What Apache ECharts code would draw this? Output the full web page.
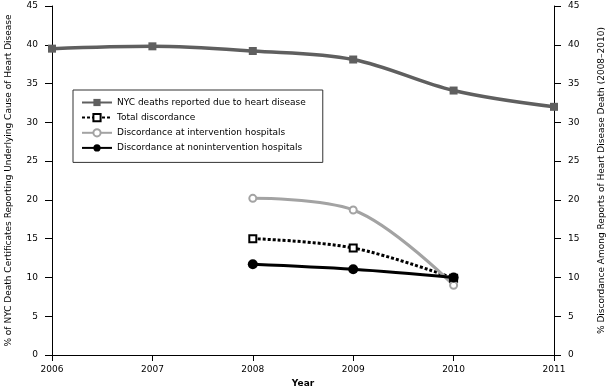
<!DOCTYPE html>
<html>
<head>
<meta charset="utf-8">
<script src="https://cdn.jsdelivr.net/npm/echarts@6/dist/echarts.min.js"></script>
<style>
html,body{margin:0;padding:0;background:#fff;}
#c{width:607px;height:388px;}
</style>
</head>
<body>
<div id="c"></div>
<script>
var years = ['2006', '2007', '2008', '2009', '2010', '2011'];
var yTicks = [0, 5, 10, 15, 20, 25, 30, 35, 40, 45];
var nycDeaths = [39.5, 39.8, 39.2, 38.1, 34.1, 32.0];
var totalDiscordance = [null, null, 15.0, 13.8, 9.9, null];
var interventionDiscordance = [null, null, 20.2, 18.7, 9.0, null];
var noninterventionDiscordance = [null, null, 11.7, 11.05, 10.0, null];
var seriesNames = ['NYC deaths reported due to heart disease', 'Total discordance', 'Discordance at intervention hospitals', 'Discordance at nonintervention hospitals'];

var FONT = 'DejaVu Sans';
var chart = echarts.init(document.getElementById('c'), null, {renderer: 'canvas'});
var yAxisCommon = {
  type: 'value', min: yTicks[0], max: yTicks[yTicks.length - 1], interval: 5,
  splitLine: {show: false},
  axisLine: {show: true, lineStyle: {color: '#000', width: 1}},
  axisTick: {show: true, length: 7, lineStyle: {color: '#000'}},
  axisLabel: {color: '#000', fontFamily: FONT, fontSize: 9, margin: 14},
  nameLocation: 'middle', nameRotate: 90,
  nameTextStyle: {color: '#000', fontFamily: FONT, fontSize: 9}
};
chart.setOption({
  animation: false,
  backgroundColor: '#fff',
  grid: {left: 52, right: 53, top: 6, bottom: 33, containLabel: false, outerBoundsMode: 'none'},
  legend: {
    orient: 'vertical', left: 73, top: 90,
    backgroundColor: '#fff', borderColor: '#333', borderWidth: 1,
    padding: [8, 17, 10, 8], itemGap: 6, itemWidth: 30, itemHeight: 9, itemTextGap: 9,
    textStyle: {color: '#000', fontFamily: FONT, fontSize: 9},
    data: seriesNames
  },
  xAxis: {
    type: 'category', data: years, boundaryGap: false,
    axisLine: {lineStyle: {color: '#000', width: 1}},
    axisTick: {show: true, length: 6, alignWithLabel: true, lineStyle: {color: '#000'}},
    axisLabel: {color: '#000', fontFamily: FONT, fontSize: 9, margin: 10},
    name: 'Year', nameLocation: 'middle', nameGap: 23,
    nameTextStyle: {color: '#000', fontFamily: FONT, fontSize: 9, fontWeight: 'bold'}
  },
  yAxis: [
    Object.assign({}, yAxisCommon, {position: 'left', name: '% of NYC Death Certificates Reporting Underlying Cause of Heart Disease', nameGap: 39}),
    Object.assign({}, yAxisCommon, {position: 'right', name: '% Discordance Among Reports of Heart Disease Death (2008\u20132010)', nameGap: 43})
  ],
  series: [
    {
      name: seriesNames[0], type: 'line', data: nycDeaths, yAxisIndex: 0, smooth: 0.35,
      symbol: 'rect', symbolSize: 8, showAllSymbol: true,
      lineStyle: {color: '#5f5f5f', width: 3.5},
      itemStyle: {color: '#5f5f5f', borderColor: '#5f5f5f', borderWidth: 0}
    },
    {
      name: seriesNames[1], type: 'line', data: totalDiscordance, yAxisIndex: 1, smooth: 0.35,
      symbol: 'rect', symbolSize: 7,
      lineStyle: {color: '#000', width: 3, type: [3, 2]},
      itemStyle: {color: '#fff', borderColor: '#000', borderWidth: 2}
    },
    {
      name: seriesNames[2], type: 'line', data: interventionDiscordance, yAxisIndex: 1, smooth: 0.35,
      symbol: 'circle', symbolSize: 7,
      lineStyle: {color: '#a3a3a3', width: 3},
      itemStyle: {color: '#fff', borderColor: '#a3a3a3', borderWidth: 2}
    },
    {
      name: seriesNames[3], type: 'line', data: noninterventionDiscordance, yAxisIndex: 1, smooth: 0.35,
      symbol: 'circle', symbolSize: 10,
      lineStyle: {color: '#000', width: 3},
      itemStyle: {color: '#000', borderColor: '#000', borderWidth: 0}
    }
  ]
});
</script>
</body>
</html>
